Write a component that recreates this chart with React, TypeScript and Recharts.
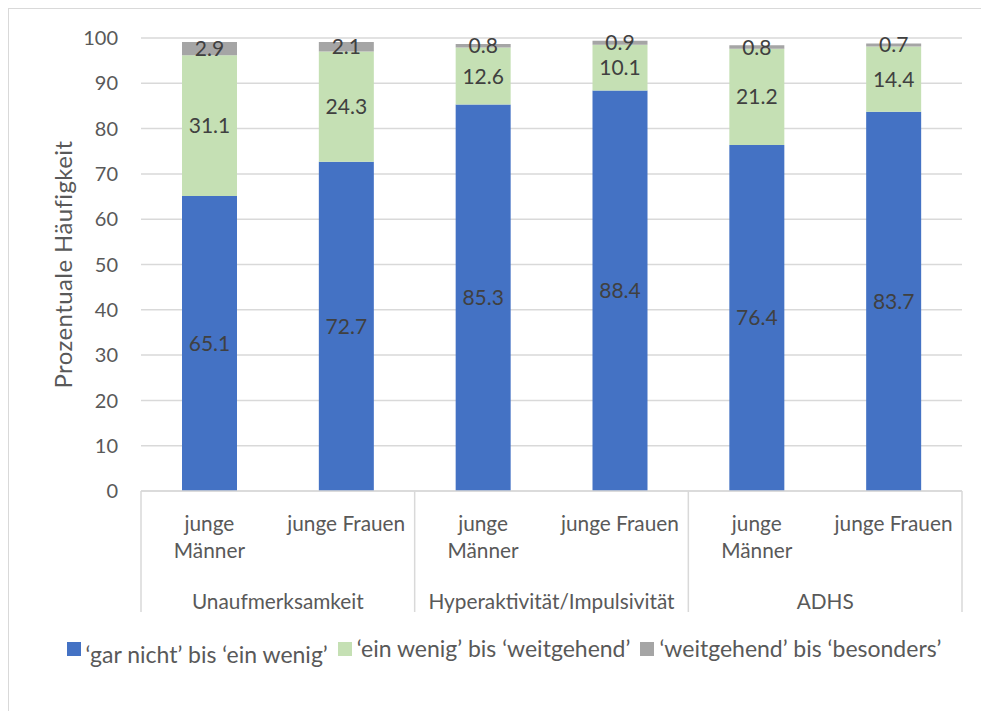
import { BarChart, Bar, XAxis, YAxis, CartesianGrid, LabelList, Label } from 'recharts';

const groups = ['Unaufmerksamkeit', 'Unaufmerksamkeit', 'Hyperaktivität/Impulsivität', 'Hyperaktivität/Impulsivität', 'ADHS', 'ADHS'];
const subLabels = ['junge Männer', 'junge Frauen', 'junge Männer', 'junge Frauen', 'junge Männer', 'junge Frauen'];
const garNicht = [65.1, 72.7, 85.3, 88.4, 76.4, 83.7];
const einWenig = [31.1, 24.3, 12.6, 10.1, 21.2, 14.4];
const weitgehend = [2.9, 2.1, 0.8, 0.9, 0.8, 0.7];
const yTicks = [0, 10, 20, 30, 40, 50, 60, 70, 80, 90, 100];

const seriesNames = ['‘gar nicht’ bis ‘ein wenig’', '‘ein wenig’ bis ‘weitgehend’', '‘weitgehend’ bis ‘besonders’'];
const colors = ['#4472C4', '#C5E0B4', '#A5A5A5'];

const data = subLabels.map((s, i) => ({
    key: `${groups[i]}|${s}`,
    sub: s,
    group: groups[i],
    a: garNicht[i],
    b: einWenig[i],
    c: weitgehend[i],
}));

const FONT = 'Lato, "Liberation Sans", sans-serif';
const W = 981;
const H = 711;
const plotLeft = 141;
const plotRight = 962;
const bandWidth = (plotRight - plotLeft) / data.length;

// two level category axis like in Excel
function CategoryTick(props: any) {
    const { x, y, payload } = props;
    const i = payload.index;
    const row = data[i];
    const lines = row.sub === 'junge Männer' ? ['junge', 'Männer'] : [row.sub];
    const isGroupStart = i === 0 || data[i - 1].group !== row.group;
    const isLast = i === data.length - 1;
    return (
        <g>
            {lines.map((l, k) => (
                <text key={k} x={x} y={y + 31 + k * 27} textAnchor="middle" dominantBaseline="central"
                    fill="#595959" fontSize={20.8} fontFamily={FONT}>{l}</text>
            ))}
            {isGroupStart && (
                <>
                    <line x1={x - bandWidth / 2} x2={x - bandWidth / 2} y1={y} y2={y + 121} stroke="#d9d9d9" strokeWidth={1.5} />
                    <text x={x + bandWidth / 2} y={y + 109} textAnchor="middle" dominantBaseline="central"
                        fill="#595959" fontSize={20.8} fontFamily={FONT}>{row.group}</text>
                </>
            )}
            {isLast && (
                <line x1={x + bandWidth / 2} x2={x + bandWidth / 2} y1={y} y2={y + 121} stroke="#d9d9d9" strokeWidth={1.5} />
            )}
        </g>
    );
}

function YTitle(props: any) {
    const { viewBox } = props;
    const cx = viewBox.x + 62;
    const cy = viewBox.y + viewBox.height / 2;
    return (
        <text x={cx} y={cy} transform={`rotate(-90, ${cx}, ${cy})`} textAnchor="middle" dominantBaseline="central"
            fill="#595959" fontSize={24} letterSpacing={0.4} fontFamily={FONT}>Prozentuale Häufigkeit</text>
    );
}

function App() {
    return (
        <div style={{ position: 'absolute', left: 0, top: 0, width: W, height: H, overflow: 'hidden', fontFamily: FONT }}>
            <div style={{ position: 'absolute', left: 8, top: 8, width: 990, height: 720, border: '1.5px solid #d9d9d9', boxSizing: 'border-box' }} />
            <div style={{ position: 'absolute', left: 0, top: 0 }}>
                <BarChart width={W} height={H} data={data} margin={{ top: 38, right: W - plotRight, left: 0, bottom: 0 }}>
                    <CartesianGrid vertical={false} stroke="#d9d9d9" strokeWidth={1.5} />
                    <XAxis dataKey="key" interval={0} height={H - 491} tickLine={false} tickSize={0} tickMargin={0}
                        axisLine={{ stroke: '#d9d9d9', strokeWidth: 1.5 }} tick={<CategoryTick />} />
                    <YAxis width={plotLeft} domain={[0, 100]} ticks={yTicks} axisLine={false} tickLine={false}
                        tickSize={0} tickMargin={23} tick={{ fill: '#595959', fontSize: 20, fontFamily: FONT }}>
                        <Label content={<YTitle />} />
                    </YAxis>
                    <Bar dataKey="a" stackId="s" fill={colors[0]} barSize={55} isAnimationActive={false}>
                        <LabelList dataKey="a" position="center" fill="#404040" fontSize={21} fontFamily={FONT} />
                    </Bar>
                    <Bar dataKey="b" stackId="s" fill={colors[1]} barSize={55} isAnimationActive={false}>
                        <LabelList dataKey="b" position="center" fill="#404040" fontSize={21} fontFamily={FONT} />
                    </Bar>
                    <Bar dataKey="c" stackId="s" fill={colors[2]} barSize={55} isAnimationActive={false}>
                        <LabelList dataKey="c" position="center" fill="#404040" fontSize={21} fontFamily={FONT} />
                    </Bar>
                </BarChart>
            </div>
            <div style={{ position: 'absolute', left: 27, top: 634, width: 954, display: 'flex', justifyContent: 'center', color: '#595959', fontSize: 23 }}>
                {seriesNames.map((n, i) => (
                    <div key={n} style={{ display: 'flex', alignItems: 'flex-start', marginRight: i < 2 ? 10 : 0 }}>
                        <div style={{ width: 14, height: 14, background: colors[i], marginTop: 8, marginRight: 5 }} />
                        <span style={{ marginTop: i === 0 ? 6 : 0, lineHeight: '28px' }}>{n}</span>
                    </div>
                ))}
            </div>
        </div>
    );
}

export default App;
